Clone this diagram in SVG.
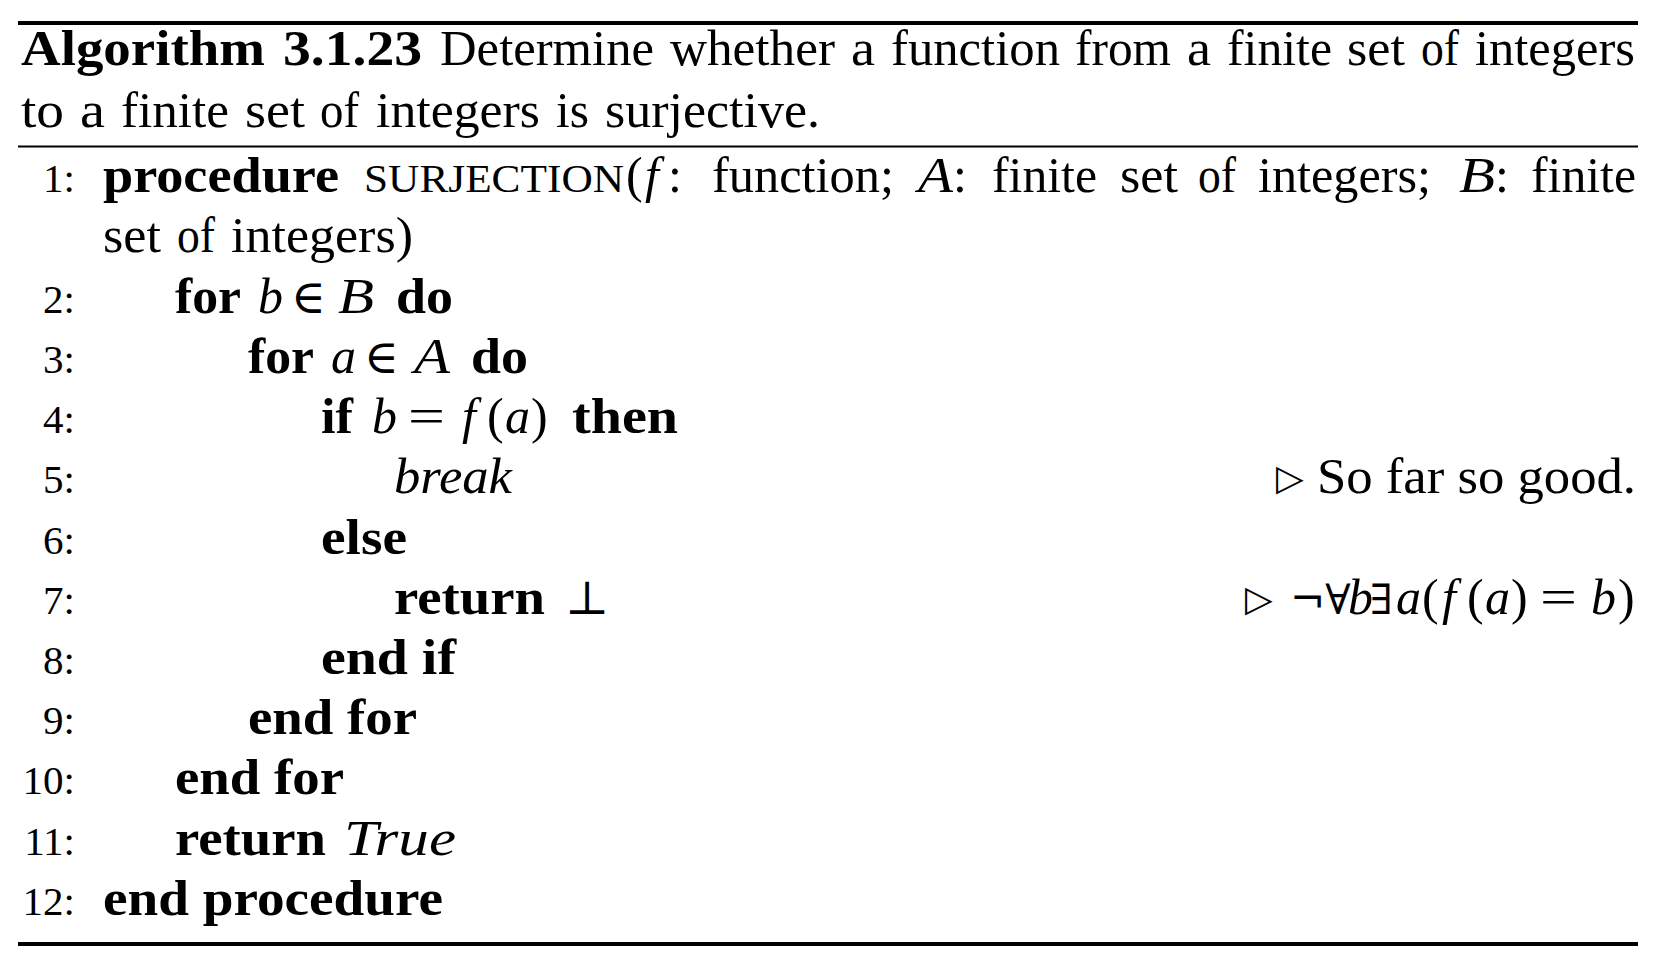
<svg xmlns="http://www.w3.org/2000/svg" width="1662" height="964" viewBox="0 0 1662 964">
<style>
text { font-family: "Liberation Serif", "DejaVu Serif", serif; font-size: 50px; fill: #000; }
.b { font-weight: bold; }
.i { font-style: italic; }
.n { font-size: 41px; text-anchor: end; }
.sc { font-size: 40px; }
.m { font-family: "DejaVu Serif", serif; font-size: 47px; }
.q { font-family: "DejaVu Serif", serif; font-size: 42px; }
.tri { font-family: "DejaVu Sans", sans-serif; font-size: 36px; }
.rule { fill: #000; }
</style>
<rect width="1662" height="964" fill="#fff"/>
<g id="rules">
<rect class="rule" x="18" y="21" width="1620" height="4"/>
<rect class="rule" x="18" y="145.5" width="1620" height="2"/>
<rect class="rule" x="18" y="942" width="1620" height="4"/>
</g>
<g id="caption">
<text class="b" x="21" y="65" textLength="244" lengthAdjust="spacingAndGlyphs">Algorithm</text>
<text class="b" x="283" y="65" textLength="139" lengthAdjust="spacingAndGlyphs">3.1.23</text>
<text x="440" y="65" textLength="214" lengthAdjust="spacingAndGlyphs">Determine</text>
<text x="670" y="65" textLength="165" lengthAdjust="spacingAndGlyphs">whether</text>
<text x="851" y="65" textLength="24" lengthAdjust="spacingAndGlyphs">a</text>
<text x="891" y="65" textLength="169" lengthAdjust="spacingAndGlyphs">function</text>
<text x="1075" y="65" textLength="96" lengthAdjust="spacingAndGlyphs">from</text>
<text x="1187" y="65" textLength="24" lengthAdjust="spacingAndGlyphs">a</text>
<text x="1227" y="65" textLength="105" lengthAdjust="spacingAndGlyphs">finite</text>
<text x="1347" y="65" textLength="58" lengthAdjust="spacingAndGlyphs">set</text>
<text x="1421" y="65" textLength="38" lengthAdjust="spacingAndGlyphs">of</text>
<text x="1475" y="65" textLength="160" lengthAdjust="spacingAndGlyphs">integers</text>
<text x="21" y="127" textLength="43" lengthAdjust="spacingAndGlyphs">to</text>
<text x="80" y="127" textLength="25" lengthAdjust="spacingAndGlyphs">a</text>
<text x="121" y="127" textLength="108" lengthAdjust="spacingAndGlyphs">finite</text>
<text x="245" y="127" textLength="60" lengthAdjust="spacingAndGlyphs">set</text>
<text x="320" y="127" textLength="39" lengthAdjust="spacingAndGlyphs">of</text>
<text x="376" y="127" textLength="164" lengthAdjust="spacingAndGlyphs">integers</text>
<text x="556" y="127" textLength="33" lengthAdjust="spacingAndGlyphs">is</text>
<text x="605" y="127" textLength="215" lengthAdjust="spacingAndGlyphs">surjective.</text>
</g>
<g id="line-1">
<text class="n" x="75" y="192">1:</text>
<text class="b" x="103" y="192" textLength="236" lengthAdjust="spacingAndGlyphs">procedure</text>
<text class="sc" x="364" y="192" textLength="260" lengthAdjust="spacingAndGlyphs">SURJECTION</text>
<text x="626" y="192">(</text>
<text class="i" x="645" y="192">f</text>
<text x="668" y="192">:</text>
<text x="712" y="192" textLength="182" lengthAdjust="spacingAndGlyphs">function;</text>
<text class="i" x="918" y="192" textLength="35" lengthAdjust="spacingAndGlyphs">A</text>
<text x="953" y="192">:</text>
<text x="992" y="192" textLength="105" lengthAdjust="spacingAndGlyphs">finite</text>
<text x="1120" y="192" textLength="58" lengthAdjust="spacingAndGlyphs">set</text>
<text x="1198" y="192" textLength="38" lengthAdjust="spacingAndGlyphs">of</text>
<text x="1258" y="192" textLength="173" lengthAdjust="spacingAndGlyphs">integers;</text>
<text class="i" x="1459" y="192" textLength="36" lengthAdjust="spacingAndGlyphs">B</text>
<text x="1495" y="192">:</text>
<text x="1531" y="192" textLength="105" lengthAdjust="spacingAndGlyphs">finite</text>
<text x="103" y="252" textLength="58" lengthAdjust="spacingAndGlyphs">set</text>
<text x="177" y="252" textLength="38" lengthAdjust="spacingAndGlyphs">of</text>
<text x="231" y="252" textLength="182" lengthAdjust="spacingAndGlyphs">integers)</text>
</g>
<g id="line-2">
<text class="n" x="75" y="313">2:</text>
<text class="b" x="175" y="313" textLength="66" lengthAdjust="spacingAndGlyphs">for</text>
<text class="i" x="258" y="313">b</text>
<text class="m" x="291" y="313">∈</text>
<text class="i" x="338" y="313" textLength="36" lengthAdjust="spacingAndGlyphs">B</text>
<text class="b" x="396" y="313" textLength="57" lengthAdjust="spacingAndGlyphs">do</text>
</g>
<g id="line-3">
<text class="n" x="75" y="373">3:</text>
<text class="b" x="248" y="373" textLength="66" lengthAdjust="spacingAndGlyphs">for</text>
<text class="i" x="331" y="373">a</text>
<text class="m" x="364" y="373">∈</text>
<text class="i" x="414" y="373" textLength="36" lengthAdjust="spacingAndGlyphs">A</text>
<text class="b" x="471" y="373" textLength="57" lengthAdjust="spacingAndGlyphs">do</text>
</g>
<g id="line-4">
<text class="n" x="75" y="433">4:</text>
<text class="b" x="321" y="433" textLength="32" lengthAdjust="spacingAndGlyphs">if</text>
<text class="i" x="372" y="433">b</text>
<text x="408" y="433" textLength="37" lengthAdjust="spacingAndGlyphs">=</text>
<text class="i" x="462" y="433">f</text>
<text x="487" y="433">(</text>
<text class="i" x="505" y="433">a</text>
<text x="531" y="433">)</text>
<text class="b" x="572" y="433" textLength="106" lengthAdjust="spacingAndGlyphs">then</text>
</g>
<g id="line-5">
<text class="n" x="75" y="493">5:</text>
<text class="i" x="394" y="493" textLength="118" lengthAdjust="spacingAndGlyphs">break</text>
<text class="tri" x="1276" y="490">▷</text>
<text x="1317" y="493" textLength="319" lengthAdjust="spacingAndGlyphs">So far so good.</text>
</g>
<g id="line-6">
<text class="n" x="75" y="554">6:</text>
<text class="b" x="321" y="554" textLength="86" lengthAdjust="spacingAndGlyphs">else</text>
</g>
<g id="line-7">
<text class="n" x="75" y="614">7:</text>
<text class="b" x="394" y="614" textLength="151" lengthAdjust="spacingAndGlyphs">return</text>
<text class="m" x="565" y="614">⊥</text>
<text class="tri" x="1245" y="611">▷</text>
<text class="q" x="1290" y="614">¬∀</text>
<text class="i" x="1348" y="614">b</text>
<text class="q" x="1370" y="614">∃</text>
<text class="i" x="1396" y="614">a</text>
<text x="1422" y="614">(</text>
<text class="i" x="1442" y="614">f</text>
<text x="1467" y="614">(</text>
<text class="i" x="1485" y="614">a</text>
<text x="1511" y="614">)</text>
<text x="1540" y="614" textLength="37" lengthAdjust="spacingAndGlyphs">=</text>
<text class="i" x="1591" y="614">b</text>
<text x="1618" y="614">)</text>
</g>
<g id="line-8">
<text class="n" x="75" y="674">8:</text>
<text class="b" x="321" y="674" textLength="135" lengthAdjust="spacingAndGlyphs">end if</text>
</g>
<g id="line-9">
<text class="n" x="75" y="734">9:</text>
<text class="b" x="248" y="734" textLength="169" lengthAdjust="spacingAndGlyphs">end for</text>
</g>
<g id="line-10">
<text class="n" x="75" y="794">10:</text>
<text class="b" x="175" y="794" textLength="169" lengthAdjust="spacingAndGlyphs">end for</text>
</g>
<g id="line-11">
<text class="n" x="75" y="855">11:</text>
<text class="b" x="175" y="855" textLength="151" lengthAdjust="spacingAndGlyphs">return</text>
<text class="i" x="344" y="855" textLength="112" lengthAdjust="spacingAndGlyphs">True</text>
</g>
<g id="line-12">
<text class="n" x="75" y="915">12:</text>
<text class="b" x="103" y="915" textLength="340" lengthAdjust="spacingAndGlyphs">end procedure</text>
</g>
</svg>
